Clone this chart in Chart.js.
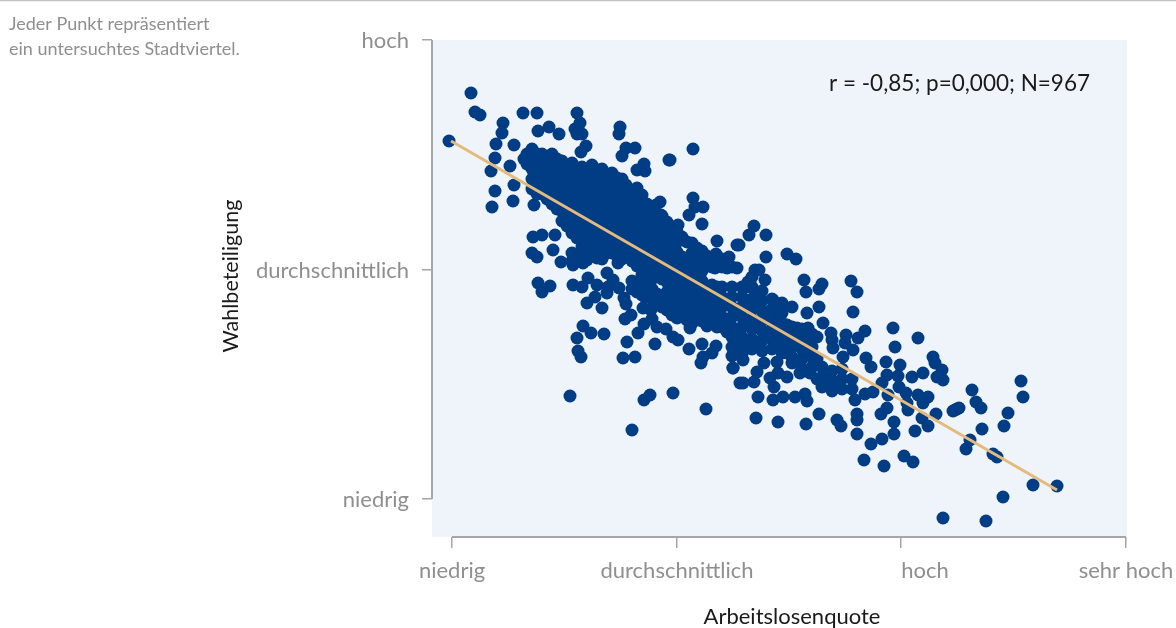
<!DOCTYPE html>
<html lang="de">
<head>
<meta charset="utf-8">
<script src="https://cdn.jsdelivr.net/npm/chart.js@4"></script>
<style>
html,body{margin:0;padding:0;background:#fff}
#wrap{width:1176px;height:628px}
</style>
</head>
<body>
<div id="wrap"><canvas id="c" width="1176" height="628"></canvas></div>
<script>
// Axes use unlabelled index units; only the category names below are printed.
const xTickValues = [0, 225, 449, 674];
const xTickLabels = ['niedrig', 'durchschnittlich', 'hoch', 'sehr hoch'];
const yTickValues = [0, 229, 459];
const yTickLabels = ['niedrig', 'durchschnittlich', 'hoch'];
const xTitle = 'Arbeitslosenquote';
const yTitle = 'Wahlbeteiligung';
const noteLines = ['Jeder Punkt repräsentiert', 'ein untersuchtes Stadtviertel.'];
const statsText = 'r = -0,85; p=0,000; N=967';
const trendLine = [[-1, 358], [605, 9]];

// Individually readable districts: [arbeitslosenquote, wahlbeteiligung]
const looseDistricts = [
[19,406],[23,387],[28,384],[-3,358],[51,376],[50,366],[71,386],[85,386],[86,368],[97,372],[107,365],[125,386],[128,376],[123,370],[130,365],[125,365],[168,372],[167,365],[44,355],[62,354],[43,341],[39,328],[58,333],[62,314],[43,308],[61,298],[40,292],[82,294],[134,353],[129,347],[174,351],[183,351],[170,343],[192,335],[185,329],[193,328],[217,339],[208,297],[204,294],[185,311],[185,304],[174,314],[209,284],
[81,262],[90,264],[103,264],[80,246],[85,242],[101,249],[109,237],[121,234],[131,236],[145,241],[155,246],[166,236],[86,216],[98,213],[90,207],[121,214],[130,212],[136,221],[145,214],[155,226],[161,219],[155,206],[156,212],[167,211],[135,196],[143,202],[150,191],[172,201],[174,195],[131,173],[139,166],[152,165],[125,161],[126,148],[129,142],[173,180],[179,184],[175,157],[171,141],[183,142],[186,166],[192,175],[193,202],[191,191],[199,189],[200,180],[205,172],[214,170],[203,155],[221,162],[226,159],[237,150],[250,155],[264,153],[260,146],[251,142],[249,136],[281,131],[280,143],[283,149],[288,116],[118,103],[192,99],[198,104],[221,106],[254,90],[180,69],[265,258],[285,254],[225,181],[238,171],[255,173],[275,167],[285,162],[245,179],[265,182],
[241,350],[218,339],[241,301],[243,292],[251,292],[237,284],[250,275],[226,274],[210,283],[287,254],[297,264],[302,273],[314,264],[314,242],[335,245],[344,240],[352,219],[354,207],[370,215],[367,210],[399,218],[405,207],[340,192],[367,192],[401,187],[313,219],[303,229],[307,229],[296,217],[295,212],[277,242],[264,245],[285,231],[275,231],[263,231],[308,206],[321,199],[330,194],
[355,186],[371,176],[335,174],[345,171],[356,171],[379,166],[394,164],[413,168],[406,161],[441,171],[466,161],[443,152],[365,162],[358,154],[380,159],[381,151],[401,149],[393,156],[391,142],[414,141],[419,132],[434,137],[448,134],[481,142],[483,136],[490,129],[485,122],[491,119],[471,126],[460,122],[446,123],[435,124],[430,116],[447,112],[454,106],[436,104],[421,107],[413,105],[403,99],[466,104],[476,102],[471,96],[455,96],[435,91],[429,85],[456,89],[470,81],[484,85],[476,73],[463,68],[442,77],[442,65],[430,60],[419,55],[405,85],[405,79],[405,65],[385,79],[389,73],[367,85],[354,75],[326,77],[304,81],[306,102],[321,99],[331,102],[343,102],[353,105],[355,98],[322,112],[318,121],[326,126],[335,122],[348,126],[358,126],[305,127],[302,117],[291,116],[312,136],[281,131],[291,139],[282,147],[325,137],[340,136],[412,39],[432,33],[452,43],[461,37],[505,90],[501,88],[514,50],[518,59],
[569,118],[571,102],[520,109],[524,97],[529,91],[556,86],[552,73],[530,70],[507,91],[503,89],[541,45],[545,42],[581,14],[605,13],[551,2],[491,-19],[534,-22]
];

// Overlapping core of the cloud, read column by column: [x, [y, y, ...]]
const denseColumns = [
[72,[340]],[80,[350,340,330,320,310]],[90,[345,335,325,315,305]],[100,[345,335,325,315,305,295]],
[110,[338,328,318,308,298,288,278]],[120,[336,326,316,306,296,286,276,266,246,238]],
[130,[332,322,312,302,292,282,272,262,252,242]],[140,[334,324,314,304,294,284,274,264,254,244]],
[150,[330,320,310,300,290,280,270,260,250,240]],[160,[326,316,306,296,286,276,266,256,246]],
[170,[320,310,300,290,280,270,260,250,240]],[180,[308,298,288,278,268,258,248,238,218,210]],
[190,[304,294,284,274,264,254,244,234,224,214,204]],[200,[290,280,270,260,250,240,230,220,210,200]],
[210,[280,270,260,250,240,230,220,200,192]],[220,[272,262,252,242,232,222,212,202,192,184]],
[230,[262,242,232,222,212,202,192,182]],[240,[256,246,236,226,216,206,196,186,176]],
[250,[248,238,228,218,208,198,188,178]],[260,[240,232,214,206,196,186,176]],
[270,[240,232,212,202,192,182,172]],[280,[232,212,202,192,182,172,162,152]],
[290,[212,202,192,182,172,162,152,145]],[300,[222,212,200,190,180,170,160,150]],
[310,[208,198,188,178,168,158,148]],[320,[200,190,180,170,160,150]],
[330,[196,186,176,166,156,146]],[340,[172,162,152,142]],[350,[170,160,150,140,130]],
[360,[165,152,142,132]],[370,[132,122,112]],[380,[128,118,108]],[390,[130,120,110]],[400,[120,110]]
];
const denseInfill = [
[75,[345,335]],[85,[345,335,325,315,305]],[95,[340,330,320,310,300]],[105,[340,330,320,310,300,290]],
[115,[333,323,313,303,293,283,273]],[125,[331,321,311,301,291,281,271,261,241]],
[135,[327,317,307,297,287,277,267,257,247,239]],[145,[329,319,309,299,289,279,269,259,249,243]],
[155,[325,315,305,295,285,275,265,255,247]],[165,[321,311,301,291,281,271,261,251,243]],
[175,[309,299,289,279,269,259,249]],[185,[303,293,283,273,263,253,243,233,213,207]],
[195,[295,285,275,265,255,245,235,225,215,205]],[205,[285,275,265,255,245,235,225,205,195]],
[215,[277,267,257,247,237,227,217,207,197,189]],[225,[267,257,247,237,227,217,207,197,187]],
[235,[257,237,227,217,207,197,187,179]],[245,[251,241,231,221,211,201,191,181]],
[255,[243,233,213,203,193,183,177]],[265,[237,212,202,192,182,172]],[275,[197,177]],
[285,[187,167]],[295,[197,177,157]],[305,[195,175,155]],[315,[183,163]],[325,[175,155]],[335,[166,146]],
[345,[155]],[355,[145]],[365,[140,120]],[375,[115]],[385,[115]]
];

const GREY = '#8f8f8f';
const BLUE = '#003d84';
const FONT = 'Lato,"Liberation Sans",sans-serif';
const districts = looseDistricts.map(p => ({x: p[0], y: p[1]}));
denseColumns.concat(denseInfill).forEach(col => col[1].forEach(y => districts.push({x: col[0], y})));

const decor = {
  id: 'decor',
  beforeDatasetsDraw(chart) {
    const {ctx, chartArea: a} = chart;
    ctx.save();
    ctx.fillStyle = '#eff4fa';
    ctx.fillRect(a.left, a.top, a.right - a.left, a.bottom - a.top);
    ctx.restore();
  },
  beforeDraw(chart) {
    const items = chart.scales.x.getLabelItems();
    const hoch = items[2];
    if (hoch && !hoch._moved) { hoch.options.translation[0] += 24; hoch._moved = true; }
  },
  afterDraw(chart) {
    const {ctx, chartArea: a, scales: {x, y}} = chart;
    ctx.save();
    ctx.strokeStyle = '#a6a6a6'; ctx.lineWidth = 2;
    ctx.beginPath();
    ctx.moveTo(a.left, y.getPixelForValue(yTickValues[2]));
    ctx.lineTo(a.left, y.getPixelForValue(yTickValues[0]));
    ctx.moveTo(x.getPixelForValue(xTickValues[0]), a.bottom);
    ctx.lineTo(x.getPixelForValue(xTickValues[3]), a.bottom);
    ctx.stroke();
    ctx.strokeStyle = '#c4c4c4'; ctx.lineWidth = 1.5;
    ctx.beginPath(); ctx.moveTo(0, 0.5); ctx.lineTo(1176, 0.5); ctx.stroke();
    ctx.fillStyle = GREY; ctx.textAlign = 'left'; ctx.textBaseline = 'alphabetic';
    ctx.font = '18px ' + FONT;
    noteLines.forEach((t, i) => ctx.fillText(t, 9, 30 + i * 25));
    ctx.fillStyle = '#1a1a1a'; ctx.font = '22.5px ' + FONT;
    ctx.fillText(statsText, 829, 91);
    ctx.textAlign = 'center'; ctx.textBaseline = 'middle';
    ctx.font = '22px ' + FONT;
    ctx.fillText(xTitle, 792, 617);
    ctx.translate(231, 276); ctx.rotate(-Math.PI / 2);
    ctx.font = '21.5px ' + FONT;
    ctx.fillText(yTitle, 0, 0);
    ctx.restore();
  }
};

new Chart(document.getElementById('c'), {
  type: 'scatter',
  data: {datasets: [
    {label: 'Trend', type: 'line', order: 0, data: trendLine.map(p => ({x: p[0], y: p[1]})),
     borderColor: '#e4bb7c', borderWidth: 3, pointRadius: 0, fill: false, tension: 0},
    {label: 'Stadtviertel', order: 1, data: districts, backgroundColor: BLUE, borderColor: BLUE,
     pointRadius: 6.5, borderWidth: 0}
  ]},
  plugins: [decor],
  options: {
    responsive: false, animation: false,
    layout: {padding: {left: 0, right: 49, top: 40, bottom: 0}},
    plugins: {legend: {display: false}, tooltip: {enabled: false}},
    scales: {
      x: {
        type: 'linear', min: -20, max: 675,
        afterBuildTicks(s) { s.ticks = xTickValues.map(v => ({value: v})); },
        afterFit(s) { s.height = 91; s.paddingLeft = 0; s.paddingRight = 0; },
        border: {display: false},
        grid: {drawOnChartArea: false, drawTicks: true, tickLength: 11, color: '#a6a6a6', lineWidth: 1.5},
        ticks: {
          autoSkip: false, maxRotation: 0, padding: 10, color: GREY,
          font: {family: FONT, size: 22},
          callback: v => xTickLabels[xTickValues.indexOf(v)]
        }
      },
      y: {
        type: 'linear', min: -38, max: 459,
        afterBuildTicks(s) { s.ticks = yTickValues.map(v => ({value: v})); },
        afterFit(s) { s.width = 432; s.paddingTop = 0; s.paddingBottom = 0; },
        border: {display: false},
        grid: {drawOnChartArea: false, drawTicks: true, tickLength: 10, color: '#a6a6a6', lineWidth: 1.5},
        ticks: {
          autoSkip: false, padding: 13, color: GREY, labelOffset: 1,
          font: {family: FONT, size: 22},
          callback: v => yTickLabels[yTickValues.indexOf(v)]
        }
      }
    }
  }
});
</script>
</body>
</html>
